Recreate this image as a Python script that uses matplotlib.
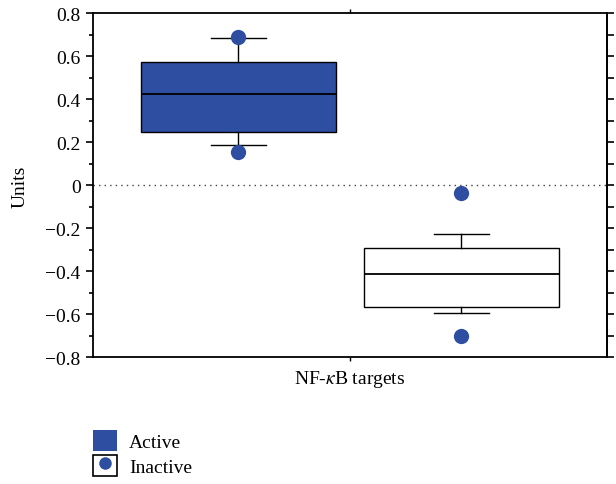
import matplotlib
matplotlib.use("Agg")
import matplotlib.pyplot as plt
import numpy as np
from matplotlib.patches import Rectangle
from matplotlib.lines import Line2D

# ---- data ----
groups = ["Active", "Inactive"]
whisker_low = [0.189, -0.594]
q1 = [0.249, -0.567]
median = [0.423, -0.410]
q3 = [0.576, -0.292]
whisker_high = [0.687, -0.226]
point_high = [0.690, -0.035]
point_low = [0.156, -0.700]
xlabel = "NF-$\\kappa$B targets"
ylabel = "Units"

blue = "#2E4EA2"
plt.rcParams["font.family"] = ["Liberation Serif", "DejaVu Serif"]
plt.rcParams["mathtext.fontset"] = "stix"
FS = 14

fig = plt.figure(figsize=(6.16, 4.85), dpi=100)
ax = fig.add_axes([0.151, 0.2612, 0.835, 0.709])

stats = []
for i, g in enumerate(groups):
    stats.append(dict(label=g, whislo=whisker_low[i], q1=q1[i], med=median[i],
                      q3=q3[i], whishi=whisker_high[i], fliers=[]))
positions = [1, 2]
bp = ax.bxp(stats, positions=positions, widths=0.874, showfliers=False,
            patch_artist=True, capwidths=0.25,
            boxprops=dict(linewidth=1.0, edgecolor="black"),
            medianprops=dict(color="black", linewidth=1.3),
            whiskerprops=dict(color="black", linewidth=1.0),
            capprops=dict(color="black", linewidth=1.0))
bp["boxes"][0].set_facecolor(blue)
bp["boxes"][1].set_facecolor("white")

ax.plot(positions, point_high, "o", color=blue, markersize=11, zorder=5, markeredgewidth=0)
ax.plot(positions, point_low, "o", color=blue, markersize=11, zorder=5, markeredgewidth=0)

ax.axhline(0, color="#444444", linestyle=(0, (1, 3)), linewidth=1.0, zorder=1)

ax.set_xlim(0.3475, 2.655)
ax.set_ylim(-0.8, 0.8)
ax.set_xticks([1.5])
ax.set_xticklabels([xlabel], fontsize=FS)
ax.set_yticks(np.arange(-0.8, 0.81, 0.2))
ax.set_yticklabels(["\u22120.8", "\u22120.6", "\u22120.4", "\u22120.2", "0",
                    "0.2", "0.4", "0.6", "0.8"])
ax.set_yticks(np.arange(-0.7, 0.71, 0.2), minor=True)
ax.tick_params(axis="y", which="major", direction="out", length=5, width=1.2, labelsize=FS, pad=4)
ax.tick_params(axis="y", which="minor", direction="out", length=2.6, width=1.2)
ax.tick_params(axis="x", which="major", direction="out", length=3, width=1.0,
               top=True, labelsize=FS, pad=5)
ax.set_ylabel(ylabel, fontsize=FS, labelpad=12)

sec = ax.secondary_yaxis("right")
sec.set_yticks(np.arange(-0.8, 0.81, 0.1))
sec.set_yticklabels([])
sec.tick_params(direction="out", length=5, width=1.2)
sec.spines["right"].set_linewidth(1.3)

for s in ax.spines.values():
    s.set_linewidth(1.3)

h1 = Rectangle((0, 0), 1, 1, facecolor=blue, edgecolor="none")
h2a = Rectangle((0, 0), 1, 1, facecolor="white", edgecolor="black", linewidth=1.2)
h2b = Line2D([], [], marker="o", color=blue, linestyle="none", markersize=9, markeredgewidth=0)
fig.legend([h1, (h2a, h2b)], groups, loc="upper left",
           bbox_to_anchor=(0.151, 0.112), frameon=False, fontsize=FS,
           handlelength=1.25, handleheight=1.3, labelspacing=0.2,
           handletextpad=0.6, borderpad=0, borderaxespad=0)

fig.savefig("out.png", dpi=100)
